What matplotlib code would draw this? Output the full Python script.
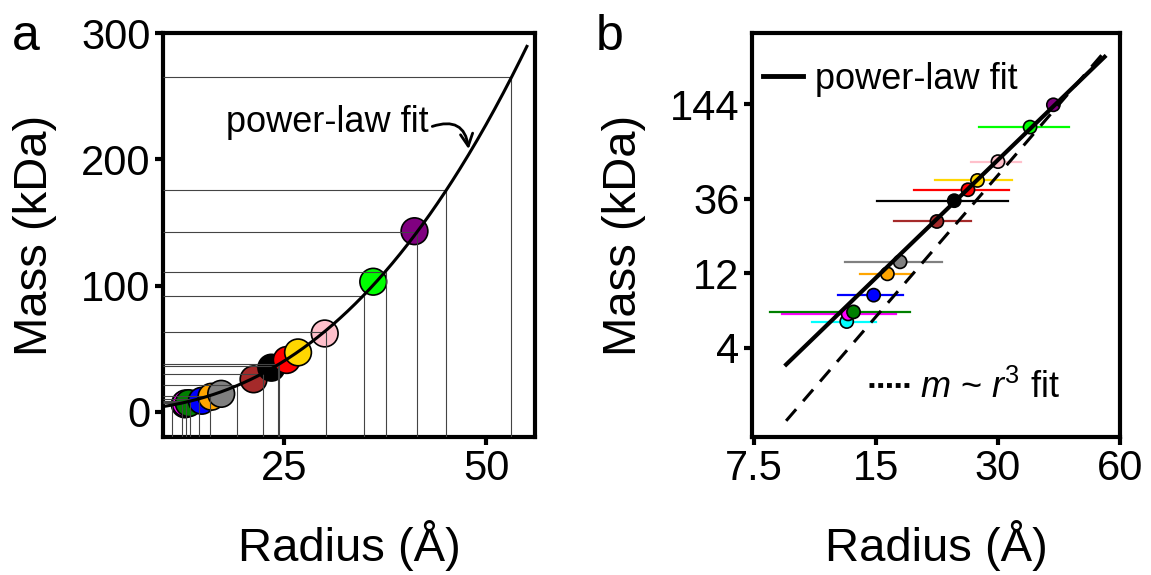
import numpy as np
import matplotlib
matplotlib.use('Agg')
import matplotlib.pyplot as plt
from matplotlib.lines import Line2D
from matplotlib.patches import FancyArrowPatch
from matplotlib.ticker import NullFormatter, NullLocator

plt.rcParams['font.family'] = ['Liberation Sans', 'DejaVu Sans']
plt.rcParams['mathtext.fontset'] = 'custom'
plt.rcParams['mathtext.rm'] = 'Liberation Sans'
plt.rcParams['mathtext.it'] = 'Liberation Sans:italic'

# Datos (radio en Å, masa en kDa, error del radio)
colors = ['cyan', 'magenta', 'green', 'blue', 'orange', 'gray', 'brown',
          'black', 'red', 'gold', 'pink', 'lime', 'purple']
radius = [12.7, 12.8, 13.2, 14.8, 16.0, 17.2, 21.2, 23.4, 25.3, 26.7, 30.0, 36.0, 41.1]
mass = [5.9, 6.6, 6.8, 8.7, 11.9, 14.2, 25.7, 34.9, 41.0, 47.0, 62.0, 103.0, 143.0]
radius_err = [2.3, 4.0, 5.0, 2.7, 2.3, 4.6, 4.6, 8.3, 6.7, 5.7, 4.2, 9.0, 0.0]

# Líneas guía del panel a
guide_r = [11.1, 12.4, 12.9, 13.4, 14.5, 15.8, 19.2, 22.4, 24.2, 24.4,
           30.1, 34.8, 37.6, 41.4, 45.0, 53.0]
guide_m = [5.3, 6.9, 7.7, 8.5, 10.3, 12.8, 21.0, 30.2, 36.0, 37.9,
           63.5, 92.0, 111.0, 142.5, 175.5, 265.0]

# Ajustes
fit_A, fit_p = 0.0129, 2.5      # ley de potencias
cube_B = 0.00188                # m ~ r^3
fit_range = (9.0, 55.0)

r_fit = np.linspace(fit_range[0], fit_range[1], 300)
m_fit = fit_A * r_fit**fit_p
m_cube = cube_B * r_fit**3

fig = plt.figure(figsize=(11.51, 5.75), dpi=100)
ax1 = fig.add_axes([0.1416, 0.24, 0.3232, 0.7026])
ax2 = fig.add_axes([0.6533, 0.24, 0.3197, 0.7026])

for ax in (ax1, ax2):
    for s in ax.spines.values():
        s.set_linewidth(3)
    ax.tick_params(which='major', direction='out', length=6, width=3,
                   labelsize=30, pad=3)

# Panel a
xlim_a = (10.0, 56.0)
ylim_a = (-20.0, 300.0)
ax1.scatter(radius, mass, s=370, c=colors, edgecolors='black', linewidths=1.2, zorder=2)
ax1.hlines(guide_m, xlim_a[0], guide_r, colors='#444444', linewidth=0.8, zorder=3)
ax1.vlines(guide_r, ylim_a[0], guide_m, colors='#444444', linewidth=0.8, zorder=3)
ax1.plot(r_fit, m_fit, color='black', lw=2.2, zorder=4)
ax1.set_xlim(xlim_a)
ax1.set_ylim(ylim_a)
ax1.set_xticks([25, 50])
ax1.set_yticks([0, 100, 200, 300])
ax1.set_xlabel('Radius (Å)', fontsize=34, labelpad=22)
ax1.set_ylabel('Mass (kDa)', fontsize=34, labelpad=17)
ax1.text(42.8, 229, 'power-law fit', fontsize=26, ha='right', va='center')
arrow = FancyArrowPatch((43.3, 226), (47.8, 208), arrowstyle='->', mutation_scale=22,
                        lw=2.0, color='black', connectionstyle='arc3,rad=-0.6',
                        shrinkA=0, shrinkB=0)
ax1.add_patch(arrow)

# Panel b
ax2.set_xscale('log')
ax2.set_yscale('log')
for r, m, e, c in zip(radius, mass, radius_err, colors):
    if e > 0:
        ax2.plot([r - e, r + e], [m, m], color=c, lw=1.6, zorder=2)
ax2.scatter(radius, mass, s=90, c=colors, edgecolors='black', linewidths=1.2, zorder=3)
ax2.plot(r_fit, m_fit, color='black', lw=3, zorder=4)
ax2.plot(r_fit, m_cube, color='black', lw=2.2, ls=(0, (5, 3.5)), zorder=4)
ax2.set_xlim(7.41, 60)
ax2.set_ylim(1.08, 411)
ax2.set_xticks([7.5, 15, 30, 60])
ax2.set_xticklabels(['7.5', '15', '30', '60'])
ax2.set_yticks([4, 12, 36, 144])
ax2.set_yticklabels(['4', '12', '36', '144'])
ax2.xaxis.set_minor_locator(NullLocator())
ax2.yaxis.set_minor_locator(NullLocator())
ax2.xaxis.set_minor_formatter(NullFormatter())
ax2.yaxis.set_minor_formatter(NullFormatter())
ax2.set_xlabel('Radius (Å)', fontsize=34, labelpad=22)
ax2.set_ylabel('Mass (kDa)', fontsize=34, labelpad=17)

h1 = Line2D([], [], color='black', lw=3.5)
h2 = Line2D([], [], color='black', lw=3.5, ls=(0, (1, 0.8)))
leg1 = ax2.legend([h1], ['power-law fit'], loc='upper left', frameon=False,
                  fontsize=26, handlelength=1.1, handletextpad=0.35,
                  borderaxespad=0.0, borderpad=0.3, bbox_to_anchor=(0.0, 0.955))
ax2.add_artist(leg1)
ax2.legend([h2], [r'$m$ ~ $r^3$ fit'], loc='lower right', frameon=False,
           fontsize=26, handlelength=1.1, handletextpad=0.3,
           borderaxespad=0.0, borderpad=0.3, bbox_to_anchor=(0.865, 0.05))

fig.text(0.010, 0.975, 'a', fontsize=36, va='top')
fig.text(0.518, 0.975, 'b', fontsize=36, va='top')

fig.savefig('out.png', dpi=100)
